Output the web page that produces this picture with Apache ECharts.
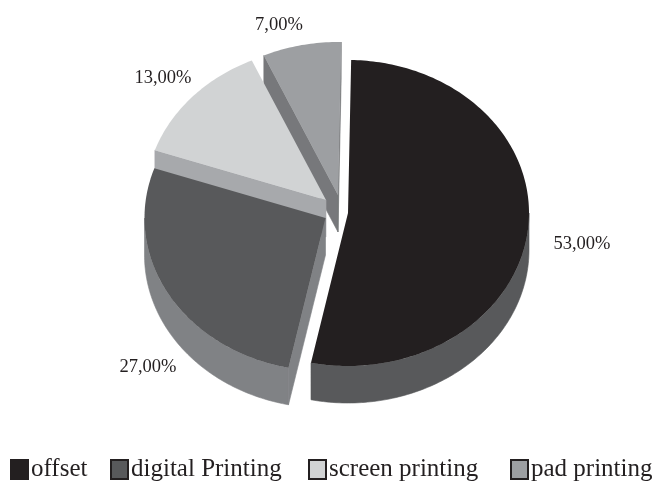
<!DOCTYPE html>
<html>
<head>
<meta charset="utf-8">
<style>html,body{margin:0;padding:0;background:#fff}#chart{width:656px;height:485px}</style>
<script src="https://cdn.jsdelivr.net/npm/echarts@6/dist/echarts.min.js"></script>
</head>
<body>
<div id="chart"></div>
<script>
// Printing techniques, share of responses in percent
const categories = ['offset', 'digital Printing', 'screen printing', 'pad printing'];
const shares = [53, 27, 13, 7];

// Appearance of each wedge: top face, side wall
const topColors = ['#231f20', '#58595b', '#d1d3d4', '#9d9fa2'];
const sideColors = ['#58595b', '#808285', '#a7a9ac', '#77787b'];

// Tilted-disc projection
const RX = 181, RY = 153, DEPTH = 37, START_DEG = 1;
// Pulled-out wedge centres and label anchors
const layout = [
  { cx: 348, cy: 213, lx: 582, ly: 244, legendX: 10 },
  { cx: 325.5, cy: 218, lx: 148, ly: 367, legendX: 110 },
  { cx: 326, cy: 200, lx: 163, ly: 78, legendX: 308 },
  { cx: 338, cy: 195, lx: 279, ly: 25, legendX: 510 }
];
const SERIF = '"Liberation Serif", serif';

const total = shares.reduce((a, b) => a + b, 0);
const rad = d => d * Math.PI / 180;

function rimPoint(c, deg, dy) {
  return [c.cx + RX * Math.sin(rad(deg)), c.cy - RY * Math.cos(rad(deg)) + (dy || 0)];
}

function arcPoints(c, from, to, dy) {
  const n = Math.max(2, Math.ceil(Math.abs(to - from)));
  const pts = [];
  for (let i = 0; i <= n; i++) pts.push(rimPoint(c, from + (to - from) * i / n, dy));
  return pts;
}

function wedgeElements(index) {
  const c = layout[index];
  let start = START_DEG;
  for (let i = 0; i < index; i++) start += shares[i] / total * 360;
  const end = start + shares[index] / total * 360;
  // A hairline stroke in the wall colour closes the seam between adjoining walls
  const side = { fill: sideColors[index], stroke: sideColors[index], lineWidth: 0.6 };
  const children = [];

  // Radial walls that face the viewer
  [[start, start - 90], [end, end + 90]].forEach(([edge, normal]) => {
    if (Math.cos(rad(normal)) < 0) {
      const p = rimPoint(c, edge);
      children.push({
        type: 'polygon',
        shape: { points: [[c.cx, c.cy], p, [p[0], p[1] + DEPTH], [c.cx, c.cy + DEPTH]] },
        style: side
      });
    }
  });

  // Outer wall on the front half of the disc
  for (const [a, b] of [[90, 270], [450, 630]]) {
    const from = Math.max(start, a), to = Math.min(end, b);
    if (to > from) {
      children.push({
        type: 'polygon',
        shape: { points: arcPoints(c, from, to, 0).concat(arcPoints(c, to, from, DEPTH)) },
        style: side
      });
    }
  }

  // Top face
  children.push({
    type: 'polygon',
    shape: { points: [[c.cx, c.cy]].concat(arcPoints(c, start, end, 0)) },
    style: { fill: topColors[index] }
  });

  // Value label
  children.push({
    type: 'text',
    style: {
      x: c.lx, y: c.ly,
      text: shares[index].toFixed(2).replace('.', ',') + '%',
      font: '18.5px ' + SERIF,
      fill: '#231f20',
      align: 'center',
      verticalAlign: 'middle'
    }
  });
  return { type: 'group', children };
}

// Painted back to front so nearer wedges cover the walls behind them
const drawOrder = [3, 2, 1, 0];

const option = {
  backgroundColor: '#ffffff',
  animation: false,
  legend: categories.map((name, i) => ({
    data: [name],
    left: layout[i].legendX,
    top: 457,
    padding: 0,
    itemWidth: 17,
    itemHeight: 19,
    itemGap: 3,
    icon: 'rect',
    selectedMode: false,
    textStyle: { fontFamily: SERIF, fontSize: 25, color: '#231f20', padding: [2, 0, 0, -2] }
  })),
  series: drawOrder.map(i => ({
    type: 'custom',
    name: categories[i],
    coordinateSystem: 'none',
    z: 10 + (3 - i),
    itemStyle: { color: topColors[i], borderColor: '#231f20', borderWidth: 1.5 },
    data: [shares[i]],
    renderItem: () => wedgeElements(i)
  }))
};

echarts.init(document.getElementById('chart'), null, { renderer: 'canvas' }).setOption(option);
</script>
</body>
</html>
